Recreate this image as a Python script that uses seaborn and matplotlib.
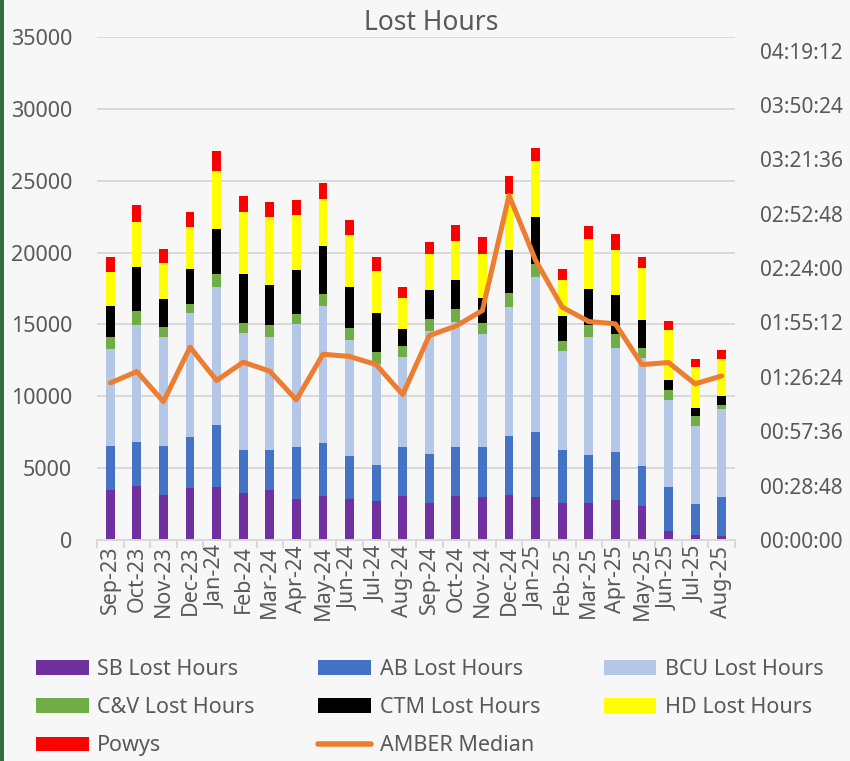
import numpy as np
import matplotlib
matplotlib.use("Agg")
import matplotlib.pyplot as plt
import seaborn as sns
from matplotlib.patches import Patch, Rectangle
from matplotlib.lines import Line2D
from matplotlib.ticker import FixedLocator, FuncFormatter

# ---------------- data ----------------
months = ["Sep-23", "Oct-23", "Nov-23", "Dec-23", "Jan-24", "Feb-24", "Mar-24", "Apr-24",
          "May-24", "Jun-24", "Jul-24", "Aug-24", "Sep-24", "Oct-24", "Nov-24", "Dec-24",
          "Jan-25", "Feb-25", "Mar-25", "Apr-25", "May-25", "Jun-25", "Jul-25", "Aug-25"]

sb_lost = [3510, 3770, 3160, 3600, 3680, 3260, 3510, 2880, 3050, 2880, 2700, 3050,
           2540, 3050, 2980, 3160, 2980, 2600, 2540, 2790, 2350, 650, 370, 300]
ab_lost = [3050, 3050, 3400, 3590, 4300, 3020, 2770, 3590, 3670, 2960, 2510, 3420,
           3460, 3420, 3490, 4100, 4560, 3680, 3390, 3330, 2770, 3020, 2140, 2680]
bcu_lost = [6700, 8140, 7580, 8580, 9650, 8140, 7860, 8580, 9580, 8050, 7070, 6260,
            8510, 8720, 7840, 8930, 10750, 6890, 8210, 7230, 7510, 6090, 5400, 6160]
cv_lost = [880, 950, 650, 630, 880, 700, 810, 700, 790, 880, 790, 790,
           860, 910, 810, 980, 930, 700, 810, 980, 700, 700, 700, 230]
ctm_lost = [2160, 3070, 1960, 2490, 3140, 3420, 2770, 3050, 3400, 2860, 2700, 1160,
            2000, 1980, 1700, 2980, 3260, 1720, 2510, 2700, 1980, 650, 560, 670]
hd_lost = [2330, 3140, 2510, 2860, 4020, 4300, 4750, 3840, 3230, 3580, 2930, 2140,
           2510, 2700, 3070, 3930, 3860, 2510, 3490, 3120, 3600, 3490, 2840, 2580]
powys = [1050, 1210, 980, 1050, 1370, 1120, 1050, 1050, 1120, 1050, 980, 810,
         860, 1140, 1210, 1230, 930, 740, 930, 1120, 810, 650, 600, 630]
# AMBER median in minutes
amber_median_min = [83.2, 89.2, 73.3, 102.1, 84.5, 94.2, 89.4, 74.2, 98.4, 97.2, 92.9, 77.0,
                    108.3, 113.3, 121.6, 182.5, 148.1, 123.3, 115.7, 114.5, 92.9, 94.0, 82.7, 86.9]

left_ticks = [0, 5000, 10000, 15000, 20000, 25000, 30000, 35000]
right_ticks_min = [28.8 * i for i in range(10)]

# ---------------- style ----------------
BG = "#f7f7f7"
TXT = "#595959"
GRID = "#d9d9d9"
series = [
    ("SB Lost Hours", sb_lost, "#7030a0"),
    ("AB Lost Hours", ab_lost, "#4472c4"),
    ("BCU Lost Hours", bcu_lost, "#b4c7e7"),
    ("C&V Lost Hours", cv_lost, "#70ad47"),
    ("CTM Lost Hours", ctm_lost, "#000000"),
    ("HD Lost Hours", hd_lost, "#ffff00"),
    ("Powys", powys, "#ff0000"),
]
ORANGE = "#ed7d31"

sns.set_theme(style="white")
plt.rcParams["font.family"] = ["Noto Sans", "DejaVu Sans"]

W, H = 850, 761
fig = plt.figure(figsize=(W / 100, H / 100), dpi=100, facecolor=BG)
ax = fig.add_axes([97 / W, 1 - 540 / H, (735 - 97) / W, (540 - 37) / H])
ax.set_facecolor(BG)

n = len(months)
bottom = np.zeros(n)
for name, vals, color in series:
    sns.barplot(x=months, y=vals, bottom=bottom.copy(), color=color, width=0.33,
                saturation=1, errorbar=None, linewidth=0, order=months, ax=ax)
    bottom += np.array(vals, dtype=float)

ax.set_xlim(-0.5, n - 0.5)
ax.set_ylim(0, 35000)
ax.set_yticks(left_ticks)
ax.set_yticklabels([str(t) for t in left_ticks])
ax.yaxis.grid(True, color=GRID, linewidth=1.4)
ax.xaxis.grid(False)
ax.set_axisbelow(True)
for s in ["left", "right", "top"]:
    ax.spines[s].set_visible(False)
ax.spines["bottom"].set_color(GRID)
ax.spines["bottom"].set_linewidth(1.4)
ax.set_xlabel("")
ax.set_ylabel("")
ax.set_xticks(range(n))
ax.set_xticklabels(months, rotation=90)
ax.xaxis.set_minor_locator(FixedLocator(np.arange(-0.5, n, 1)))
ax.tick_params(axis="x", which="major", length=0, pad=4, labelsize=15.5, labelcolor=TXT)
ax.tick_params(axis="x", which="minor", length=6, width=1.4, color=GRID, direction="out", bottom=True)
ax.tick_params(axis="y", length=0, pad=18, labelsize=15.5, labelcolor=TXT)

ax2 = ax.twinx()
sns.lineplot(x=np.arange(n), y=amber_median_min, color=ORANGE, linewidth=3.6,
             ax=ax2, legend=False)
ax2.set_xlim(-0.5, n - 0.5)
ax2.set_ylim(0, 266.4)
ax2.set_yticks(right_ticks_min)


def fmt_time(m, pos=None):
    tot = int(round(m * 60))
    h, rem = divmod(tot, 3600)
    mi, se = divmod(rem, 60)
    return f"{h:02d}:{mi:02d}:{se:02d}"


ax2.yaxis.set_major_formatter(FuncFormatter(fmt_time))
ax2.tick_params(axis="y", length=0, pad=18, labelsize=15, labelcolor=TXT)
ax2.grid(False)
for s in ax2.spines.values():
    s.set_visible(False)
ax2.set_ylabel("")
ax2.set_xlabel("")

fig.text(431 / W, 1 - 23 / H, "Lost Hours", ha="center", va="center",
         fontsize=19, color=TXT)

# legend
patches = {name: Patch(facecolor=c, edgecolor="none", label=name) for name, _, c in series}
amber_h = Line2D([], [], color=ORANGE, linewidth=4, label="AMBER Median",
                 solid_capstyle="round")
order = ["SB Lost Hours", "C&V Lost Hours", "Powys",
         "AB Lost Hours", "CTM Lost Hours", "AMBER Median",
         "BCU Lost Hours", "HD Lost Hours"]
handles = [amber_h if k == "AMBER Median" else patches[k] for k in order]
fig.legend(handles=handles, labels=order, ncol=3, loc="upper left",
           bbox_to_anchor=(36 / W, 1 - 659 / H), frameon=False,
           fontsize=15.5, labelcolor=TXT, handlelength=2.45, handleheight=0.65,
           handletextpad=0.4, columnspacing=2.95, labelspacing=0.8,
           borderpad=0, borderaxespad=0)

fig.patches.append(Rectangle((0, 0), 4 / W, 1, transform=fig.transFigure,
                             facecolor="#356b40", edgecolor="none"))

fig.savefig("out.png", dpi=100, facecolor=BG)
